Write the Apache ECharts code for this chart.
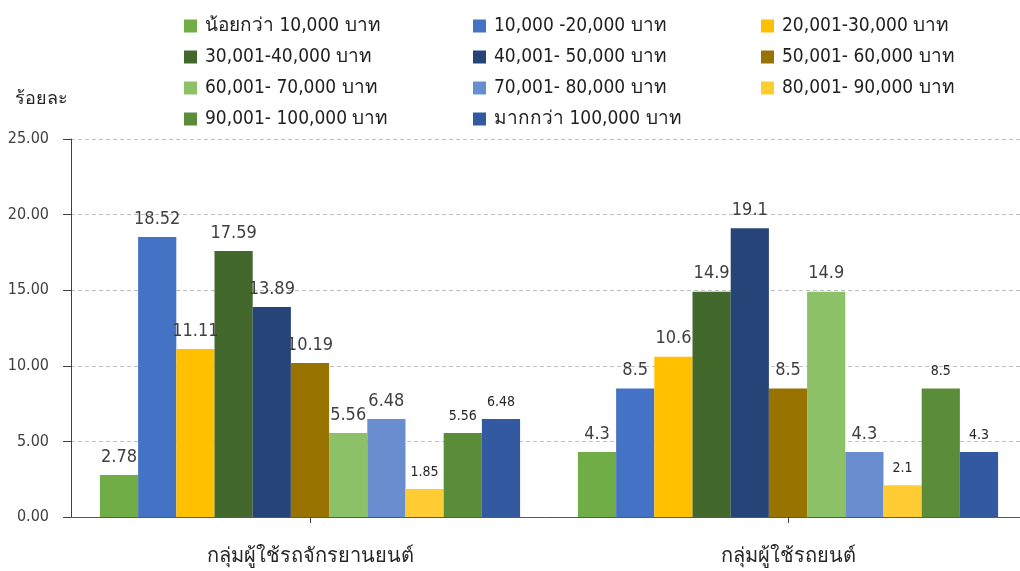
<!DOCTYPE html>
<html>
<head>
<meta charset="utf-8">
<script src="https://cdn.jsdelivr.net/npm/echarts@6/dist/echarts.min.js"></script>
<style>
  html, body { margin: 0; padding: 0; background: #ffffff; }
  #chart { width: 1020px; height: 571px; }
</style>
</head>
<body>
<div id="chart"></div>
<script>
// Income groups (baht per month)
const incomeGroups = [
  'น้อยกว่า 10,000 บาท',
  '10,000 -20,000 บาท',
  '20,001-30,000 บาท',
  '30,001-40,000 บาท',
  '40,001- 50,000 บาท',
  '50,001- 60,000 บาท',
  '60,001- 70,000 บาท',
  '70,001- 80,000 บาท',
  '80,001- 90,000 บาท',
  '90,001- 100,000 บาท',
  'มากกว่า 100,000 บาท'
];

// User groups on the category axis
const userGroups = ['กลุ่มผู้ใช้รถจักรยานยนต์', 'กลุ่มผู้ใช้รถยนต์'];

// Percentages per income group
const motorcycleUsers = [2.78, 18.52, 11.11, 17.59, 13.89, 10.19, 5.56, 6.48, 1.85, 5.56, 6.48];
const carUsers        = [4.3, 8.5, 10.6, 14.9, 19.1, 8.5, 14.9, 4.3, 2.1, 8.5, 4.3];

// Value axis ticks
const yTicks = [0, 5, 10, 15, 20, 25];

const palette = [
  '#70AD47', '#4472C4', '#FFC000', '#43682B', '#264478', '#997300',
  '#8CC168', '#698ED0', '#FFCD33', '#5B8C3A', '#335AA1'
];

const FONT = '"DejaVu Sans Condensed", "DejaVu Sans", "Noto Sans", sans-serif';

const series = incomeGroups.map((name, i) => ({
  name: name,
  type: 'bar',
  barGap: '0%',
  barCategoryGap: '12.1%',
  itemStyle: { color: palette[i] },
  label: {
    show: true,
    position: 'top',
    distance: i >= 8 ? 10 : 9,
    fontFamily: FONT,
    fontSize: i >= 8 ? 14 : 18,
    color: i >= 8 ? '#262626' : '#404040',
    formatter: p => String(p.value)
  },
  data: [motorcycleUsers[i], carUsers[i]]
}));

// Legend laid out in three columns
const legendCols = [[0, 3, 6, 9], [1, 4, 7, 10], [2, 5, 8]];
const legendX = [184, 473, 761];
const legends = legendCols.map((idx, c) => ({
  orient: 'vertical',
  left: legendX[c],
  top: 16,
  padding: 0,
  itemWidth: 13,
  itemHeight: 13,
  itemGap: 11,
  icon: 'rect',
  textStyle: { fontFamily: FONT, fontSize: 19, color: '#1f1f1f', padding: [0, 0, 0, 3], lineHeight: 20 },
  data: idx.map(k => incomeGroups[k])
}));

const chart = echarts.init(document.getElementById('chart'), null, { renderer: 'canvas' });
chart.setOption({
  animation: false,
  backgroundColor: '#ffffff',
  legend: legends,
  // plot area runs slightly past the right edge of the canvas
  grid: { left: 71, top: 139, width: 956, height: 378, containLabel: false, outerBoundsMode: 'none' },
  graphic: [{
    type: 'text',
    left: 15,
    top: 90,
    style: { text: 'ร้อยละ', fontFamily: FONT, fontSize: 18, fill: '#262626' }
  }],
  xAxis: {
    type: 'category',
    data: userGroups,
    axisLine: { lineStyle: { color: '#595959', width: 1 } },
    axisTick: { show: true, alignWithLabel: true, length: 6, inside: false, lineStyle: { color: '#404040' } },
    axisLabel: { fontFamily: FONT, fontSize: 20, color: '#262626', margin: 30 }
  },
  yAxis: {
    type: 'value',
    min: yTicks[0],
    max: yTicks[yTicks.length - 1],
    interval: yTicks[1] - yTicks[0],
    axisLine: { show: true, lineStyle: { color: '#404040', width: 1 } },
    axisTick: { show: true, length: 8, lineStyle: { color: '#404040' } },
    axisLabel: { fontFamily: FONT, fontSize: 16, color: '#404040', margin: 22, formatter: v => v.toFixed(2) },
    splitLine: { show: true, lineStyle: { color: '#bfbfbf', type: [4, 3], width: 1 } }
  },
  series: series
});
</script>
</body>
</html>
